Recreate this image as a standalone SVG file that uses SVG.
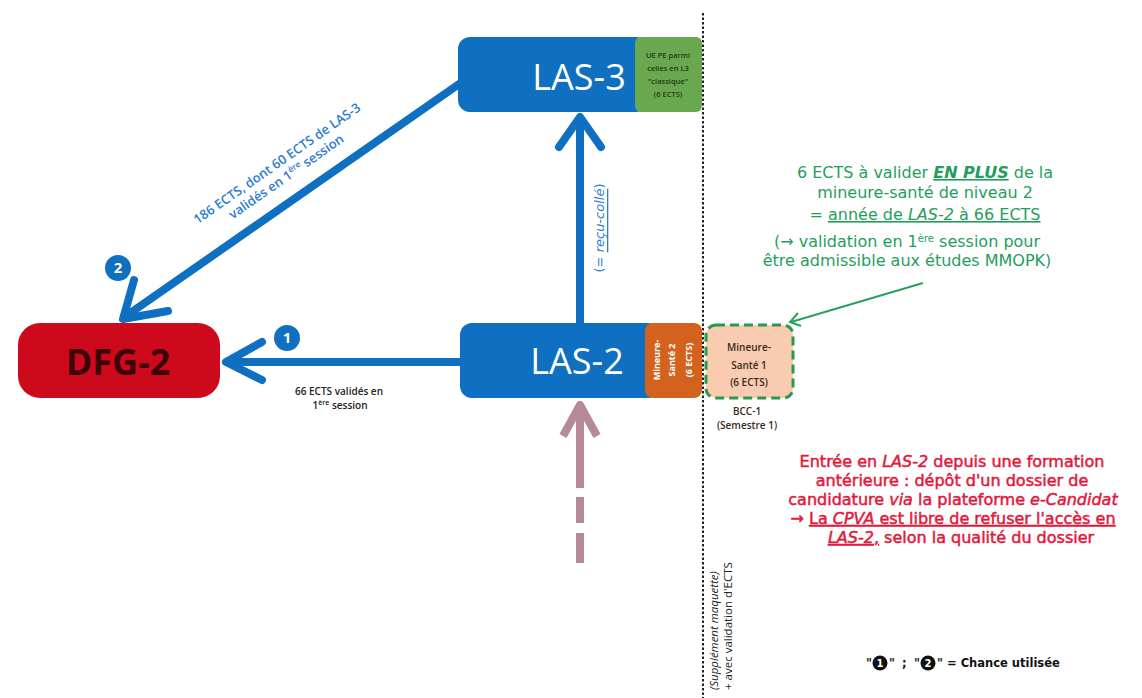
<svg xmlns="http://www.w3.org/2000/svg" width="1142" height="698" viewBox="0 0 1142 698">
<style>
text{font-family:"Open Sans","DejaVu Sans",sans-serif}
.conn{fill:none;stroke:#0f6fc1;stroke-width:8;stroke-linecap:round;stroke-linejoin:round}
.pink{fill:none;stroke:#b5899a;stroke-width:8;stroke-linejoin:round}
.blue{fill:#0f6fc1}
.big{font-size:36px;fill:#fff;text-anchor:middle}
.tiny{font-size:7.5px;font-weight:600;fill:#1f3a14;text-anchor:middle}
.or{font-size:9px;font-weight:700;fill:#fff;text-anchor:middle;dominant-baseline:central}
.mn{font-size:10px;font-weight:600;fill:#3a2a20;text-anchor:middle}
.lbl{font-size:10px;font-weight:600;fill:#222;text-anchor:middle}
.bl{font-size:13px;font-weight:600;fill:#2b7cd3;text-anchor:middle}
.gr{font-family:"DejaVu Sans",sans-serif;font-size:16px;fill:#1f9e5c;text-anchor:middle}
.rd{font-family:"DejaVu Sans",sans-serif;font-size:16px;fill:#e3193c;stroke:#e3193c;stroke-width:0.5;text-anchor:middle}
.num{font-size:15px;font-weight:700;fill:#fff;text-anchor:middle}
.vt{font-size:11.5px;fill:#222;dominant-baseline:central}
.lg{font-family:"DejaVu Sans",sans-serif;font-size:11.5px;font-weight:700;fill:#111}
.lgn{font-family:"DejaVu Sans",sans-serif;font-size:10px;font-weight:700;fill:#fff;text-anchor:middle}
</style>
<rect width="1142" height="698" fill="#fff"/>
<line x1="703" y1="13" x2="703" y2="698" stroke="#222" stroke-width="2" stroke-dasharray="2.5 2"/>
<g id="connectors">
  <line class="conn" x1="460" y1="362" x2="230" y2="362"/>
  <polyline class="conn" points="262,342 226,362 262,380"/>
  <line class="conn" x1="580" y1="323" x2="580" y2="120"/>
  <polyline class="conn" points="559,147 580,117 601,147"/>
  <line class="conn" x1="462" y1="82" x2="126" y2="316"/>
  <polyline class="conn" points="134,280 123,319 168,311"/>
  <line class="pink" x1="580" y1="488" x2="580" y2="408"/>
  <polyline class="pink" points="563,436 580,405 597,436"/>
  <line class="pink" x1="580" y1="497" x2="580" y2="523"/>
  <line class="pink" x1="580" y1="533" x2="580" y2="563"/>
  <line x1="923" y1="283" x2="791" y2="322" stroke="#2aa060" stroke-width="2"/>
  <polyline points="801,326 790,322 798,313" fill="none" stroke="#2aa060" stroke-width="2"/>
  <circle class="blue" cx="287" cy="338" r="13"/>
  <text class="num" x="287" y="343">1</text>
  <circle class="blue" cx="118" cy="268" r="13"/>
  <text class="num" x="118" y="273">2</text>
  <text class="lbl" x="339" y="395">66 ECTS validés en</text>
  <text class="lbl" x="340" y="409">1<tspan font-size="7" dy="-4">ère</tspan><tspan dy="4"> session</tspan></text>
  <g transform="translate(283,172) rotate(-35)">
    <text class="bl" x="0" y="-6">186 ECTS, dont 60 ECTS de LAS-3</text>
    <text class="bl" x="0" y="10">validés en 1<tspan font-size="8.5" dy="-5">ère</tspan><tspan dy="5"> session</tspan></text>
  </g>
  <text class="bl" transform="translate(599,228) rotate(-90)" text-anchor="middle" dominant-baseline="central" style="font-size:13px;font-family:'DejaVu Sans',sans-serif;font-weight:400">(= <tspan font-style="italic" text-decoration="underline">reçu-collé</tspan>)</text>
</g>
<g id="dfg2">
  <rect x="18" y="323" width="202" height="75" rx="22" fill="#cc0a1c"/>
  <text x="118" y="375" font-size="36" font-weight="700" fill="#3d0309" text-anchor="middle">DFG-2</text>
</g>
<g id="las2">
  <rect x="460" y="323" width="200" height="75" rx="12" class="blue"/>
  <rect x="645" y="323" width="57" height="75" rx="8" fill="#d2621e"/>
  <text class="big" x="577" y="374">LAS-2</text>
  <text class="or" transform="translate(656,360) rotate(-90)">Mineure-</text>
  <text class="or" transform="translate(671,360) rotate(-90)">Santé 2</text>
  <text class="or" transform="translate(688,360) rotate(-90)">(6 ECTS)</text>
</g>
<g id="las3">
  <rect x="458" y="37" width="190" height="75" rx="12" class="blue"/>
  <rect x="635" y="37" width="67" height="75" rx="6" fill="#6aa84f"/>
  <text class="big" x="579" y="90">LAS-3</text>
  <text class="tiny" x="668" y="58">UE PE parmi</text>
  <text class="tiny" x="668" y="71">celles en L3</text>
  <text class="tiny" x="668" y="84">"classique"</text>
  <text class="tiny" x="668" y="97">(6 ECTS)</text>
</g>
<g id="mineure1">
  <rect x="706" y="325" width="87" height="73" rx="10" fill="#f9cbb0" stroke="#2a9a4a" stroke-width="3" stroke-dasharray="9 5"/>
  <text class="mn" x="749" y="351">Mineure-</text>
  <text class="mn" x="749" y="369">Santé 1</text>
  <text class="mn" x="749" y="386">(6 ECTS)</text>
  <text class="mn" x="747" y="415" fill="#222">BCC-1</text>
  <text class="mn" x="747" y="429" fill="#222">(Semestre 1)</text>
</g>
<g id="note-green">
  <text class="gr" x="925" y="178">6 ECTS à valider <tspan font-weight="700" font-style="italic" text-decoration="underline">EN PLUS</tspan> de la</text>
  <text class="gr" x="925" y="198">mineure-santé de niveau 2</text>
  <text class="gr" x="925" y="220">= <tspan text-decoration="underline">année de <tspan font-style="italic">LAS-2</tspan> à 66 ECTS</tspan></text>
  <text class="gr" x="907" y="247">(→ validation en 1<tspan font-size="10" dy="-5">ère</tspan><tspan dy="5"> session pour</tspan></text>
  <text class="gr" x="907" y="266">être admissible aux études MMOPK)</text>
</g>
<g id="note-red">
  <text class="rd" x="952" y="467">Entrée en <tspan font-style="italic">LAS-2</tspan> depuis une formation</text>
  <text class="rd" x="952" y="486">antérieure : dépôt d'un dossier de</text>
  <text class="rd" x="953" y="505">candidature <tspan font-style="italic">via</tspan> la plateforme <tspan font-style="italic">e-Candidat</tspan></text>
  <text class="rd" x="953" y="524">→ <tspan text-decoration="underline">La <tspan font-style="italic">CPVA</tspan> est libre de refuser l'accès en</tspan></text>
  <text class="rd" x="961" y="543"><tspan font-style="italic" text-decoration="underline">LAS-2</tspan><tspan text-decoration="underline">,</tspan> selon la qualité du dossier</text>
</g>
<g id="note-vertical">
  <text class="vt" transform="translate(713,690) rotate(-90)" font-style="italic">(Supplément maquette)</text>
  <text class="vt" transform="translate(727,690) rotate(-90)">+ avec validation d'ECTS</text>
</g>
<g id="legend">
  <text class="lg" x="866" y="667">"</text>
  <circle cx="880" cy="663" r="7.5" fill="#111"/>
  <text class="lgn" x="880" y="667">1</text>
  <text class="lg" x="889" y="667">"</text>
  <text class="lg" x="902" y="667">;</text>
  <text class="lg" x="914" y="667">"</text>
  <circle cx="928" cy="663" r="7.5" fill="#111"/>
  <text class="lgn" x="928" y="667">2</text>
  <text class="lg" x="937" y="667">" = Chance utilisée</text>
</g>
</svg>
